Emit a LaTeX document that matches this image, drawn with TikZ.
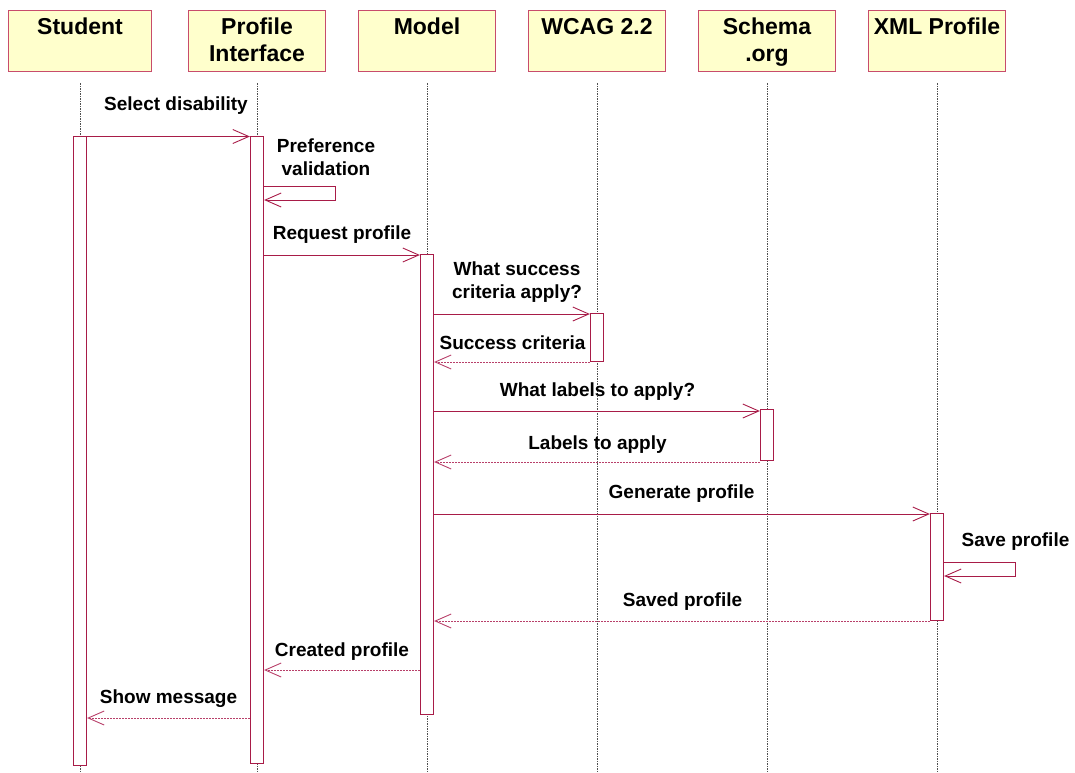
\documentclass[tikz,border=0pt]{standalone}
\usepackage{fontspec}
\setmainfont{Liberation Sans}
\usetikzlibrary{arrows.meta}
\definecolor{boxfill}{HTML}{FFFFCC}
\definecolor{boxline}{HTML}{C84C6C}
\definecolor{msgline}{HTML}{A81C48}
\definecolor{replyline}{HTML}{B8406A}
\definecolor{lifegray}{HTML}{505050}
\begin{document}
\begin{tikzpicture}[x=1pt,y=-1pt,
  head/.style={draw=boxline, fill=boxfill, line width=1.3pt, minimum height=61pt,
    minimum width=137pt, inner sep=0pt, anchor=north},
  headtext/.style={font=\fontsize{23}{27}\selectfont\bfseries, align=center,
    anchor=north, inner sep=0pt},
  lifeline/.style={draw=lifegray, line width=0.8pt, dash pattern=on 1.5pt off 1pt},
  actbar/.style={draw=msgline, fill=white, line width=1.2pt, minimum width=13pt,
    inner sep=0pt, anchor=north},
  msg/.style={draw=msgline, line width=0.9pt, -{Straight Barb[length=16pt,width=14pt]}},
  reply/.style={msg, draw=replyline, dash pattern=on 2pt off 1pt},
  lbl/.style={font=\fontsize{19}{23}\selectfont\bfseries, align=center,
    anchor=north, inner sep=0pt}]

\useasboundingbox (0,0) rectangle (1075,772);

% participant heads
\node[head, minimum width=143pt] (hStudent) at (80,10) {};
\node[head] (hProfile) at (257,10) {};
\node[head] (hModel)   at (427,10) {};
\node[head] (hWcag)    at (597,10) {};
\node[head] (hSchema)  at (767,10) {};
\node[head] (hXml)     at (937,10) {};

\node[headtext] (tStudent) at (80,18)  {Student};
\node[headtext] (tProfile) at (257,18) {Profile\\Interface};
\node[headtext] (tModel)   at (427,18) {Model};
\node[headtext] (tWcag)    at (597,18) {WCAG 2.2};
\node[headtext] (tSchema)  at (767,18) {Schema\\.org};
\node[headtext] (tXml)     at (937,18) {XML Profile};

% lifelines
\foreach \h in {hStudent,hProfile,hModel,hWcag,hSchema,hXml}
  \draw[lifeline] ([yshift=-11pt]\h.south) -- ++(0,690);

% activation bars
\node[actbar, minimum height=629pt] (aStudent) at (80,136)  {};
\node[actbar, minimum height=627pt] (aProfile) at (257,136) {};
\node[actbar, minimum height=460pt] (aModel)   at (427,254) {};
\node[actbar, minimum height=48pt]  (aWcag)    at (597,313) {};
\node[actbar, minimum height=51pt]  (aSchema)  at (767,409) {};
\node[actbar, minimum height=107pt] (aXml)     at (937,513) {};

% message rows
\coordinate (r1)  at (0,136.5);
\coordinate (r2a) at (0,186);
\coordinate (r2b) at (0,200);
\coordinate (r3)  at (0,255);
\coordinate (r4)  at (0,314);
\coordinate (r5)  at (0,362);
\coordinate (r6)  at (0,411);
\coordinate (r7)  at (0,462);
\coordinate (r8)  at (0,514);
\coordinate (r9a) at (0,562);
\coordinate (r9b) at (0,576);
\coordinate (r10) at (0,621);
\coordinate (r11) at (0,670);
\coordinate (r12) at (0,718);

% messages
\draw[msg] (aStudent.east |- r1) -- (aProfile.west |- r1);
\draw[msg] (aProfile.east |- r2a) -- ++(71,0) -- ++(0,14) -- (aProfile.east |- r2b);
\draw[msg] (aProfile.east |- r3) -- (aModel.west |- r3);
\draw[msg] (aModel.east |- r4) -- (aWcag.west |- r4);
\draw[reply] (aWcag.west |- r5) -- (aModel.east |- r5);
\draw[msg] (aModel.east |- r6) -- (aSchema.west |- r6);
\draw[reply] (aSchema.west |- r7) -- (aModel.east |- r7);
\draw[msg] (aModel.east |- r8) -- (aXml.west |- r8);
\draw[msg] (aXml.east |- r9a) -- ++(71,0) -- ++(0,14) -- (aXml.east |- r9b);
\draw[reply] (aXml.west |- r10) -- (aModel.east |- r10);
\draw[reply] (aModel.west |- r11) -- (aProfile.east |- r11);
\draw[reply] (aProfile.west |- r12) -- (aStudent.east |- r12);

% message labels
\node[lbl] (l1)  at (176,97)    {Select disability};
\node[lbl] (l2)  at (326,139)   {Preference\\validation};
\node[lbl] (l3)  at (342,226)   {Request profile};
\node[lbl] (l4)  at (517,261.5) {What success\\criteria apply?};
\node[lbl] (l5)  at (512.5,335.5) {Success criteria};
\node[lbl] (l6)  at (597.5,382.5) {What labels to apply?};
\node[lbl] (l7)  at (597.5,436) {Labels to apply};
\node[lbl] (l8)  at (681.5,485) {Generate profile};
\node[lbl] (l9)  at (1015.5,532.5) {Save profile};
\node[lbl] (l10) at (682.5,593) {Saved profile};
\node[lbl] (l11) at (342,642.5) {Created profile};
\node[lbl] (l12) at (168.5,690) {Show message};
\end{tikzpicture}
\end{document}
